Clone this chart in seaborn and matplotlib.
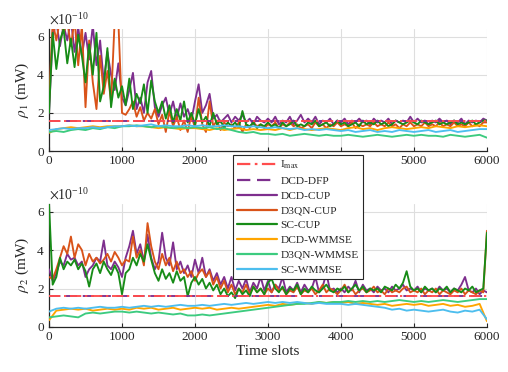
import numpy as np
import pandas as pd
import matplotlib
matplotlib.use("Agg")
import matplotlib.pyplot as plt
import seaborn as sns

# ---------------- data (values in units of 1e-10 mW) ----------------
SLOTS_CUP = np.arange(0, 6001, 50)
SLOTS_WM = np.arange(0, 6001, 100)
IMAX = 1.6
DFP = 1.6

top_dcd_cup = [
    2.0, 6.0, 6.8, 5.5, 6.6, 5.8, 6.9, 5.2, 6.5, 5.0,
    6.2, 4.8, 6.6, 4.5, 5.8, 3.6, 5.2, 4.0, 3.2, 4.6,
    2.8, 2.4, 3.2, 4.1, 2.2, 2.8, 2.0, 3.6, 4.2, 2.3,
    1.8, 2.4, 2.8, 1.9, 2.6, 1.7, 2.5, 1.8, 2.2, 1.6,
    2.6, 3.5, 2.0, 2.4, 3.0, 1.7, 1.9, 1.5, 1.7, 1.9,
    1.5, 1.8, 1.6, 1.9, 1.5, 1.7, 1.4, 1.8, 1.6, 1.5,
    1.7, 1.5, 1.8, 1.4, 1.6, 1.5, 1.8, 1.4, 1.6, 1.9,
    1.5, 1.7, 1.5, 1.8, 1.4, 1.6, 1.5, 1.7, 1.4, 1.6,
    1.5, 1.7, 1.4, 1.6, 1.5, 1.7, 1.5, 1.6, 1.4, 1.7,
    1.5, 1.6, 1.5, 1.7, 1.4, 1.6, 1.5, 1.6, 1.5, 1.8,
    1.5, 1.7, 1.5, 1.6, 1.4, 1.6, 1.5, 1.7, 1.5, 1.6,
    1.4, 1.6, 1.5, 1.7, 1.4, 1.6, 1.5, 1.6, 1.5, 1.7,
    1.6]
top_d3qn_cup = [
    2.5, 6.8, 5.8, 6.9, 6.2, 6.8, 5.5, 6.9, 4.5, 6.6,
    2.3, 5.8, 3.6, 2.2, 5.0, 3.0, 4.2, 2.6, 6.9, 6.8,
    2.0, 1.9, 2.2, 2.6, 1.8, 2.3, 1.6, 2.0, 1.7, 2.2,
    1.4, 1.9, 1.0, 2.1, 1.3, 1.8, 1.1, 1.6, 1.0, 1.9,
    1.2, 2.8, 1.4, 1.0, 2.6, 1.3, 1.6, 1.1, 1.5, 1.3,
    1.4, 1.2, 1.5, 1.0, 1.4, 1.2, 1.5, 1.3, 1.4, 1.2,
    1.4, 1.3, 1.5, 1.2, 1.4, 1.3, 1.5, 1.3, 1.4, 1.2,
    1.3, 1.4, 1.2, 1.5, 1.3, 1.4, 1.2, 1.4, 1.3, 1.5,
    1.3, 1.4, 1.3, 1.5, 1.2, 1.4, 1.3, 1.4, 1.3, 1.5,
    1.3, 1.4, 1.3, 1.5, 1.3, 1.4, 1.2, 1.4, 1.3, 1.5,
    1.3, 1.4, 1.3, 1.5, 1.3, 1.4, 1.3, 1.5, 1.3, 1.4,
    1.3, 1.5, 1.3, 1.4, 1.3, 1.5, 1.3, 1.4, 1.3, 1.5,
    1.5]
top_sc_cup = [
    2.0, 6.2, 4.3, 5.8, 6.4, 4.6, 5.9, 4.4, 6.1, 5.0,
    3.6, 5.6, 4.0, 6.2, 2.6, 3.4, 5.4, 2.3, 3.8, 2.8,
    3.4, 2.4, 3.8, 2.2, 3.0, 2.5, 3.5, 2.0, 3.7, 2.6,
    2.0, 2.6, 1.7, 2.4, 1.5, 2.2, 1.6, 2.6, 1.5, 2.0,
    1.4, 2.2, 1.5, 1.8, 1.3, 2.0, 1.4, 1.6, 1.2, 1.5,
    1.3, 1.5, 1.2, 2.1, 1.4, 1.3, 1.5, 1.2, 1.4, 1.3,
    1.5, 1.3, 1.4, 1.2, 1.5, 1.3, 1.4, 1.6, 1.3, 1.4,
    1.3, 1.5, 1.4, 1.6, 1.3, 1.4, 1.5, 1.3, 1.4, 1.6,
    1.4, 1.5, 1.3, 1.4, 1.5, 1.3, 1.6, 1.4, 1.5, 1.4,
    1.6, 1.4, 1.5, 1.3, 1.4, 1.6, 1.5, 1.4, 1.5, 1.6,
    1.5, 1.4, 1.6, 1.5, 1.4, 1.5, 1.6, 1.4, 1.5, 1.4,
    1.5, 1.6, 1.4, 1.5, 1.4, 1.5, 1.6, 1.4, 1.5, 1.6,
    1.6]
top_dcd_wmmse = [
    0.95, 1.15, 1.2, 1.25, 1.2, 1.25, 1.3, 1.25, 1.3, 1.3,
    1.3, 1.35, 1.3, 1.3, 1.25, 1.2, 1.25, 1.2, 1.15, 1.2,
    1.2, 1.15, 1.1, 1.2, 1.1, 1.15, 1.2, 1.1, 1.15, 1.1,
    1.15, 1.1, 1.2, 1.1, 1.2, 1.15, 1.1, 1.15, 1.2, 1.15,
    1.1, 1.2, 1.25, 1.15, 1.2, 1.1, 1.2, 1.25, 1.2, 1.15,
    1.2, 1.25, 1.2, 1.3, 1.25, 1.2, 1.3, 1.25, 1.3, 1.35,
    1.3]
top_d3qn_wmmse = [
    1.0, 1.05, 1.0, 1.1, 1.15, 1.1, 1.2, 1.15, 1.25, 1.2,
    1.3, 1.3, 1.35, 1.3, 1.25, 1.3, 1.25, 1.2, 1.25, 1.2,
    1.25, 1.2, 1.25, 1.15, 1.2, 1.1, 1.0, 0.95, 1.0, 0.9,
    0.9, 0.85, 0.9, 0.8, 0.85, 0.9, 0.85, 0.8, 0.85, 0.8,
    0.8, 0.85, 0.8, 0.75, 0.8, 0.85, 0.8, 0.75, 0.8, 0.85,
    0.8, 0.85, 0.8, 0.8, 0.75, 0.85, 0.8, 0.75, 0.8, 0.85,
    0.7]
top_sc_wmmse = [
    1.1, 1.15, 1.2, 1.15, 1.2, 1.2, 1.25, 1.2, 1.25, 1.3,
    1.3, 1.35, 1.3, 1.35, 1.4, 1.3, 1.35, 1.3, 1.3, 1.35,
    1.3, 1.35, 1.3, 1.3, 1.35, 1.3, 1.3, 1.25, 1.3, 1.25,
    1.2, 1.25, 1.2, 1.15, 1.2, 1.1, 1.15, 1.1, 1.15, 1.1,
    1.05, 1.1, 1.0, 1.05, 1.1, 1.0, 1.05, 1.0, 1.1, 1.05,
    1.0, 1.05, 1.1, 1.0, 1.05, 1.1, 1.0, 1.05, 1.1, 1.15,
    1.15]

bot_dcd_cup = [
    3.0, 2.4, 2.8, 3.4, 3.2, 3.8, 3.5, 3.6, 3.2, 3.4,
    2.6, 3.0, 3.2, 3.6, 3.4, 4.5, 3.2, 3.0, 3.4, 3.1,
    2.6, 3.6, 4.2, 5.0, 3.8, 4.3, 3.4, 4.8, 3.6, 3.0,
    3.4, 4.9, 3.6, 3.2, 4.4, 3.0, 3.4, 2.8, 3.2, 2.6,
    3.5, 2.8, 3.6, 2.6, 3.0, 2.4, 2.8, 2.2, 2.6, 2.0,
    2.6, 1.9, 2.4, 2.0, 2.5, 1.8, 2.3, 2.0, 2.6, 1.9,
    2.4, 1.8, 2.2, 2.0, 2.6, 1.8, 2.1, 1.9, 2.3, 1.8,
    2.2, 1.9, 2.0, 2.6, 1.8, 2.1, 2.8, 1.9, 2.0, 1.8,
    2.0, 1.8, 2.1, 1.9, 2.4, 1.8, 2.2, 1.9, 2.0, 1.8,
    2.1, 1.9, 2.0, 1.8, 2.1, 1.9, 2.0, 2.2, 1.9, 2.0,
    1.9, 2.1, 1.8, 2.0, 1.9, 2.0, 1.8, 2.1, 1.9, 2.0,
    1.8, 2.0, 1.9, 2.2, 2.6, 1.9, 1.8, 2.0, 1.7, 1.9,
    1.8]
bot_d3qn_cup = [
    2.6, 2.5, 3.0, 3.6, 4.2, 3.8, 4.7, 3.6, 4.3, 4.0,
    3.2, 3.8, 3.4, 3.6, 3.3, 3.5, 3.8, 3.4, 3.9, 3.6,
    3.2, 3.5, 3.4, 4.7, 3.6, 4.0, 3.2, 5.4, 4.2, 3.4,
    3.0, 3.8, 3.2, 3.6, 2.9, 3.4, 2.8, 3.0, 2.6, 2.9,
    2.4, 2.8, 3.0, 2.6, 2.9, 2.2, 2.6, 2.0, 2.4, 1.8,
    2.2, 1.7, 2.0, 1.8, 2.2, 1.7, 2.1, 1.8, 2.0, 1.7,
    2.0, 1.8, 2.2, 1.9, 2.0, 1.7, 1.9, 1.8, 2.1, 1.7,
    1.9, 1.8, 2.0, 1.7, 1.9, 2.2, 1.8, 2.0, 1.9, 1.7,
    1.9, 2.2, 1.8, 2.0, 1.7, 1.9, 2.0, 1.8, 1.9, 2.1,
    1.8, 1.9, 1.7, 2.0, 1.8, 1.9, 1.8, 2.0, 2.1, 1.8,
    1.9, 1.8, 2.0, 1.7, 1.9, 1.8, 2.0, 1.7, 1.9, 1.8,
    1.7, 1.9, 1.8, 2.0, 1.7, 1.9, 1.8, 1.7, 1.9, 1.8,
    5.0]
bot_sc_cup = [
    6.4, 2.2, 2.6, 3.6, 3.0, 3.4, 3.2, 3.5, 3.0, 3.3,
    2.9, 2.1, 3.0, 3.3, 2.8, 3.4, 3.0, 2.7, 3.2, 2.8,
    1.7, 2.8, 3.0, 3.6, 3.2, 3.8, 3.4, 4.3, 3.5, 2.8,
    2.4, 3.0, 2.5, 2.8, 2.3, 2.9, 2.4, 2.6, 1.6, 2.3,
    2.6, 2.2, 2.5, 2.0, 2.3, 1.9, 2.2, 1.7, 2.0, 1.6,
    1.8, 1.5, 2.0, 1.7, 1.9, 1.6, 2.1, 1.8, 2.0, 1.7,
    2.3, 2.5, 2.0, 1.8, 2.1, 1.7, 2.0, 1.9, 2.2, 1.7,
    2.0, 1.8, 2.1, 1.9, 1.8, 2.0, 2.2, 1.9, 1.8, 2.0,
    1.9, 2.1, 1.8, 2.0, 2.2, 1.9, 2.1, 1.8, 2.0, 1.9,
    2.0, 1.8, 2.1, 2.0, 1.9, 2.2, 2.0, 2.3, 2.9, 2.1,
    1.9, 2.0, 1.8, 2.1, 1.9, 2.0, 1.8, 2.0, 1.9, 2.1,
    1.8, 2.0, 1.9, 1.8, 2.0, 1.9, 2.1, 1.8, 1.9, 2.0,
    4.9]
bot_dcd_wmmse = [
    0.35, 0.85, 0.9, 0.95, 0.9, 0.95, 0.85, 0.9, 0.95, 0.9,
    0.95, 0.9, 1.0, 0.95, 1.0, 0.9, 0.95, 1.0, 0.9, 0.95,
    1.0, 0.95, 1.0, 0.9, 0.95, 1.0, 0.95, 1.0, 1.05, 1.1,
    1.15, 1.1, 1.2, 1.15, 1.2, 1.25, 1.2, 1.3, 1.25, 1.3,
    1.25, 1.3, 1.2, 1.25, 1.2, 1.15, 1.2, 1.1, 1.15, 1.2,
    1.15, 1.2, 1.1, 1.15, 1.2, 1.1, 1.15, 1.05, 1.1, 1.2,
    0.3]
bot_d3qn_wmmse = [
    0.5, 0.55, 0.6, 0.55, 0.5, 0.7, 0.75, 0.7, 0.75, 0.8,
    0.8, 0.75, 0.8, 0.75, 0.7, 0.75, 0.7, 0.65, 0.7, 0.6,
    0.6, 0.65, 0.6, 0.65, 0.7, 0.75, 0.8, 0.85, 0.9, 0.95,
    1.0, 1.05, 1.1, 1.15, 1.2, 1.2, 1.25, 1.3, 1.25, 1.3,
    1.3, 1.35, 1.3, 1.35, 1.3, 1.35, 1.3, 1.35, 1.4, 1.35,
    1.3, 1.35, 1.3, 1.35, 1.4, 1.35, 1.3, 1.35, 1.4, 1.45,
    1.45]
bot_sc_wmmse = [
    0.8, 0.95, 1.0, 0.95, 1.0, 0.95, 1.0, 1.05, 1.0, 1.0,
    1.05, 1.0, 1.05, 1.1, 1.05, 1.1, 1.05, 1.1, 1.15, 1.1,
    1.1, 1.15, 1.1, 1.15, 1.2, 1.15, 1.2, 1.25, 1.2, 1.25,
    1.3, 1.25, 1.3, 1.25, 1.3, 1.25, 1.2, 1.25, 1.2, 1.2,
    1.2, 1.15, 1.2, 1.15, 1.1, 1.05, 1.0, 0.9, 0.95, 0.85,
    0.9, 0.85, 0.8, 0.85, 0.9, 0.8, 0.75, 0.85, 0.8, 0.9,
    0.4]

LABELS = ["I$_{\\mathrm{max}}$", "DCD-DFP", "DCD-CUP", "D3QN-CUP", "SC-CUP",
          "DCD-WMMSE", "D3QN-WMMSE", "SC-WMMSE"]
COLORS = ["#FF4D4D", "#7E2F8E", "#7E2F8E", "#D95319", "#178C17",
          "#FFA500", "#3CCB7F", "#4DBEEE"]
SCALE = 1e-10

# ---------------- styling ----------------
sns.set_theme(style="white")
plt.rcParams["font.family"] = ["Liberation Serif", "DejaVu Serif"]
plt.rcParams["mathtext.fontset"] = "stix"
plt.rcParams["axes.unicode_minus"] = True

fig = plt.figure(figsize=(5.08, 3.72), dpi=100)
ax1 = fig.add_axes([0.0965, 0.594, 0.862, 0.328])
ax2 = fig.add_axes([0.0965, 0.121, 0.862, 0.331])

panels = [
    (ax1, [top_dcd_cup, top_d3qn_cup, top_sc_cup],
     [top_dcd_wmmse, top_d3qn_wmmse, top_sc_wmmse], r"$\rho_1$ (mW)"),
    (ax2, [bot_dcd_cup, bot_d3qn_cup, bot_sc_cup],
     [bot_dcd_wmmse, bot_d3qn_wmmse, bot_sc_wmmse], r"$\rho_2$ (mW)"),
]

LW = 1.35
for ax, cups, wms, ylab in panels:
    ends = np.array([0, 6000])
    sns.lineplot(x=ends, y=np.array([DFP, DFP]) * SCALE, ax=ax, color=COLORS[1],
                 lw=LW, linestyle=(0, (6, 3)), zorder=5, label=LABELS[1])
    sns.lineplot(x=ends, y=np.array([IMAX, IMAX]) * SCALE, ax=ax, color=COLORS[0],
                 lw=LW, linestyle=(0, (6, 2, 1.2, 2)), zorder=6, label=LABELS[0])
    for vals, c, lab in zip(cups, COLORS[2:5], LABELS[2:5]):
        sns.lineplot(x=SLOTS_CUP, y=np.array(vals) * SCALE, ax=ax, color=c,
                     lw=LW, zorder=3, label=lab)
    for vals, c, lab in zip(wms, COLORS[5:8], LABELS[5:8]):
        sns.lineplot(x=SLOTS_WM, y=np.array(vals) * SCALE, ax=ax, color=c,
                     lw=LW, zorder=4, label=lab)
    if ax.get_legend():
        ax.get_legend().remove()

    ax.set_xlim(0, 6000)
    ax.set_ylim(0, 6.4e-10)
    ax.set_xticks([0, 1000, 2000, 3000, 4000, 5000, 6000])
    ax.set_yticks([0, 2e-10, 4e-10, 6e-10])
    ax.grid(True, color="#DEDEDE", lw=0.8)
    ax.set_axisbelow(True)
    for s in ["top", "right"]:
        ax.spines[s].set_visible(False)
    for s in ["left", "bottom"]:
        ax.spines[s].set_color("#262626")
        ax.spines[s].set_linewidth(0.9)
    ax.tick_params(direction="in", length=3, width=0.8, colors="#262626",
                   labelsize=9.5, pad=3, left=True, bottom=True)
    fmt = matplotlib.ticker.ScalarFormatter(useMathText=True)
    fmt.set_powerlimits((-3, 3))
    ax.yaxis.set_major_formatter(fmt)
    ax.yaxis.get_offset_text().set_fontsize(10)
    ax.yaxis.get_offset_text().set_color("#262626")
    ax.set_ylabel(ylab, fontsize=11, color="#262626", labelpad=4)
    ax.set_xlabel("")

ax2.set_xlabel("Time slots", fontsize=11, color="#262626", labelpad=1)

# figure legend in the specified order
h, l = ax1.get_legend_handles_labels()
order = {lab: i for i, lab in enumerate(l)}
handles = [h[order[lab]] for lab in LABELS]
leg = fig.legend(handles, LABELS, loc="upper left", bbox_to_anchor=(0.4587, 0.584),
                 fontsize=8.2, frameon=True, fancybox=False, shadow=False,
                 framealpha=1.0, facecolor="white",
                 handlelength=3.5, handletextpad=0.3, labelspacing=0.42,
                 borderpad=0.35, borderaxespad=0.0)
leg.get_frame().set_edgecolor("#262626")
leg.get_frame().set_linewidth(0.8)
for ln in leg.get_lines():
    ln.set_linewidth(1.6)
leg.set_zorder(10)

fig.savefig("out.png", dpi=100)
